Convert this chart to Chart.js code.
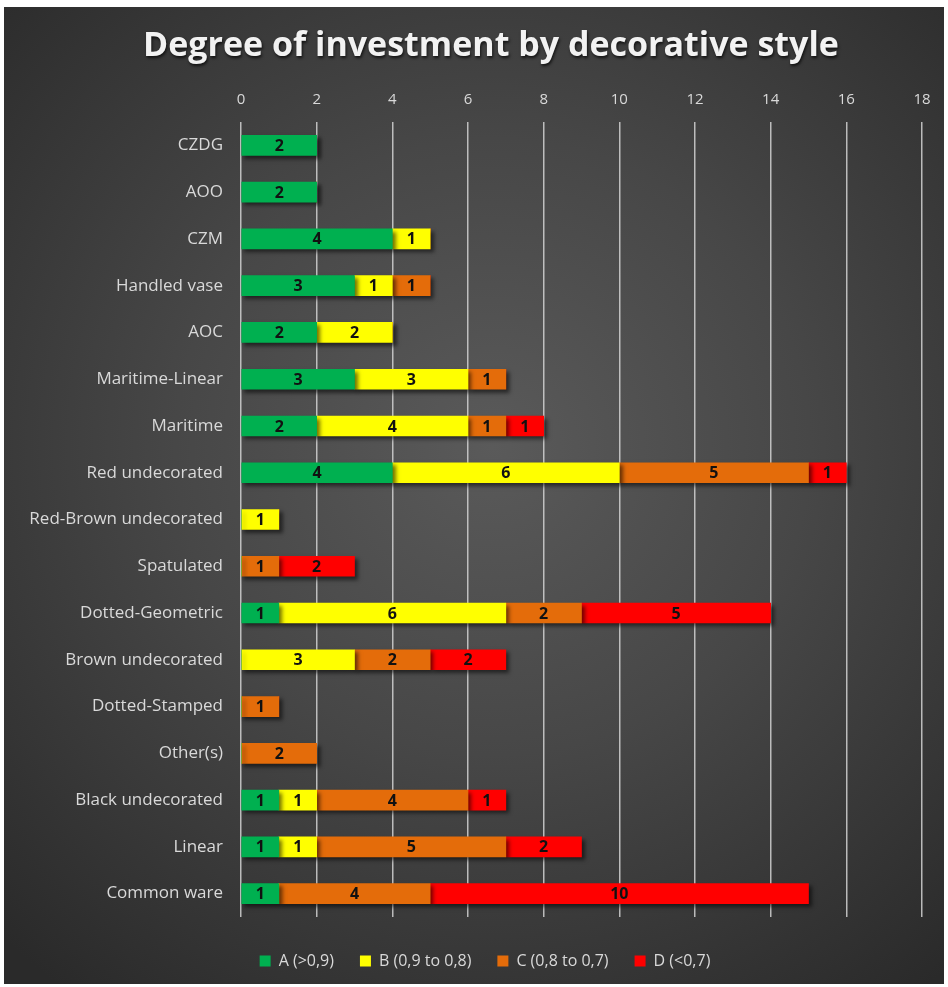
<!DOCTYPE html>
<html>
<head>
<meta charset="utf-8">
<script src="https://cdn.jsdelivr.net/npm/chart.js@4"></script>
<style>
    body { margin: 0; background: #fff; }
    #wrap {
        position: absolute; left: 4px; top: 7px; width: 940px; height: 977px;
        background: radial-gradient(ellipse 75% 70% at 52% 45%, #5a5a5a 0%, #474747 45%, #2a2a2a 100%);
    }
</style>
</head>
<body>
<div id="wrap"><canvas id="chart" width="940" height="977"></canvas></div>
<script>
const categories = ["CZDG", "AOO", "CZM", "Handled vase", "AOC", "Maritime-Linear", "Maritime", "Red undecorated",
    "Red-Brown undecorated", "Spatulated", "Dotted-Geometric", "Brown undecorated", "Dotted-Stamped", "Other(s)",
    "Black undecorated", "Linear", "Common ware"];
const seriesNames = ["A (>0,9)", "B (0,9 to 0,8)", "C (0,8 to 0,7)", "D (<0,7)"];
const gradeA = [2, 2, 4, 3, 2, 3, 2, 4, 0, 0, 1, 0, 0, 0, 1, 1, 1];
const gradeB = [0, 0, 1, 1, 2, 3, 4, 6, 1, 0, 6, 3, 0, 0, 1, 1, 0];
const gradeC = [0, 0, 0, 1, 0, 1, 1, 5, 0, 1, 2, 2, 1, 2, 4, 5, 4];
const gradeD = [0, 0, 0, 0, 0, 0, 1, 1, 0, 2, 5, 2, 0, 0, 1, 2, 10];
const xTicks = [0, 2, 4, 6, 8, 10, 12, 14, 16, 18];
const colors = ["#00b050", "#ffff00", "#e46c0a", "#ff0000"];

const txt = '#d9d9d9';

const titlePlugin = {
    id: 'titlePlugin',
    afterLayout(chart) {
        // nudge legend to the right, like the original
        chart.legend.left += 16;
        chart.legend.right += 16;
    },
    afterDraw(chart) {
        const ctx = chart.ctx;
        ctx.save();
        ctx.font = 'bold 34px "Open Sans"';
        ctx.fillStyle = '#f2f2f2';
        ctx.textAlign = 'center';
        ctx.textBaseline = 'middle';
        ctx.shadowColor = 'rgba(0,0,0,0.7)';
        ctx.shadowOffsetX = 1;
        ctx.shadowOffsetY = 2;
        ctx.shadowBlur = 3;
        ctx.fillText('Degree of investment by decorative style', 487, 39);
        ctx.restore();
    }
};

const barPlugin = {
    id: 'barPlugin',
    beforeDatasetsDraw(chart) {
        const ctx = chart.ctx;
        ctx.save();
        ctx.shadowColor = 'rgba(0,0,0,0.55)';
        ctx.shadowOffsetX = 3;
        ctx.shadowOffsetY = 3;
        ctx.shadowBlur = 4;
    },
    afterDatasetsDraw(chart) {
        const ctx = chart.ctx;
        ctx.restore();
        ctx.save();
        ctx.font = 'bold 16px "Open Sans"';
        ctx.fillStyle = '#111';
        ctx.textAlign = 'center';
        ctx.textBaseline = 'middle';
        chart.data.datasets.forEach((ds, i) => {
            const meta = chart.getDatasetMeta(i);
            meta.data.forEach((el, j) => {
                const v = ds.data[j];
                if (!v) return;
                const p = el.getProps(['x', 'y', 'base'], true);
                ctx.fillText(String(v), (p.x + p.base) / 2, p.y + 1);
            });
        });
        ctx.restore();
    }
};

new Chart(document.getElementById('chart'), {
    type: 'bar',
    data: {
        labels: categories,
        datasets: [gradeA, gradeB, gradeC, gradeD].map((d, i) => ({
            label: seriesNames[i],
            data: d,
            backgroundColor: colors[i],
            borderWidth: 0,
            barThickness: 20
        }))
    },
    options: {
        indexAxis: 'y',
        responsive: false,
        animation: false,
        layout: { padding: { top: 85, left: 12, right: 22, bottom: 5 } },
        scales: {
            x: {
                position: 'top',
                stacked: true,
                min: 0,
                max: 18,
                afterBuildTicks: s => { s.ticks = xTicks.map(v => ({ value: v })); },
                afterFit: s => { s.height = 30; },
                grid: { color: 'rgba(210,210,210,0.85)', lineWidth: 1.5, drawTicks: false },
                border: { display: false },
                ticks: { color: txt, font: { size: 15, family: '"Open Sans"' }, padding: 13 }
            },
            x2: {
                type: 'linear',
                position: 'bottom',
                min: 0,
                max: 1,
                afterFit: s => { s.height = 10; },
                grid: { display: false, drawTicks: false },
                border: { display: false },
                ticks: { display: false }
            },
            y: {
                stacked: true,
                afterFit: s => { s.width = 225; },
                grid: { display: false, drawTicks: false },
                border: { display: false },
                ticks: { color: txt, font: { size: 17, family: '"Open Sans"' }, padding: 18 }
            }
        },
        plugins: {
            legend: {
                position: 'bottom',
                labels: {
                    color: txt,
                    boxWidth: 11,
                    boxHeight: 11,
                    padding: 26,
                    font: { size: 16, family: '"Open Sans"' }
                }
            },
            tooltip: { enabled: false }
        }
    },
    plugins: [titlePlugin, barPlugin]
});
</script>
</body>
</html>
